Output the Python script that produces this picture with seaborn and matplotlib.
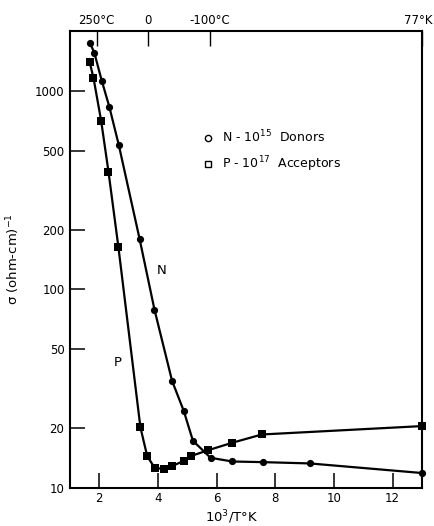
import numpy as np
import pandas as pd
import matplotlib
matplotlib.use('Agg')
import matplotlib.pyplot as plt
from matplotlib.lines import Line2D
from matplotlib.transforms import ScaledTranslation
import seaborn as sns

# Data (10^3/T vs conductivity)
n_x = [1.68, 1.83, 2.08, 2.34, 2.66, 3.37, 3.88, 4.48, 4.88, 5.19, 5.79, 6.53, 7.57, 9.17, 13.0]
n_y = [1740, 1550, 1125, 830, 535, 180, 79, 34.6, 24.4, 17.3, 14.2, 13.6, 13.5, 13.3, 11.9]

p_x = [1.67, 1.80, 2.06, 2.31, 2.65, 3.40, 3.63, 3.89, 4.20, 4.46, 4.88, 5.13, 5.71, 6.53, 7.54, 13.0]
p_y = [1390, 1160, 707, 392, 163, 20.2, 14.5, 12.6, 12.5, 12.85, 13.7, 14.5, 15.5, 16.9, 18.6, 20.5]

y_ticks = [10, 20, 50, 100, 200, 500, 1000]
x_ticks = [2, 4, 6, 8, 10, 12]
top_ticks = [1000 / 523, 1000 / 273, 1000 / 173, 1000 / 77]
top_labels = ['250°C', '0', '-100°C', '77°K']

df = pd.DataFrame({
    'x': n_x + p_x,
    'sigma': n_y + p_y,
    'sample': ['N'] * len(n_x) + ['P'] * len(p_x),
})

sns.set_style('ticks')
plt.rcParams['font.family'] = ['DejaVu Sans']
plt.rcParams['font.size'] = 8.5
plt.rcParams['text.color'] = 'black'
plt.rcParams['axes.labelcolor'] = 'black'

fig = plt.figure(figsize=(4.35, 5.26), dpi=100)
ax = fig.add_axes([0.161, 0.0722, 0.809, 0.869])

sns.lineplot(data=df, x='x', y='sigma', style='sample',
             markers={'N': 'o', 'P': 's'}, dashes=False, color='black',
             linewidth=1.6, markersize=5.2, markeredgewidth=0,
             legend=False, sort=True, estimator=None, ax=ax, clip_on=False)

ax.set_yscale('log')
ax.set_xlim(1, 13)
ax.set_ylim(10, 2000)
ax.set_yticks(y_ticks)
ax.set_yticklabels([str(v) for v in y_ticks])
ax.yaxis.set_minor_locator(matplotlib.ticker.NullLocator())
ax.set_xticks(x_ticks)
ax.set_xticklabels([str(v) for v in x_ticks])

for s in ax.spines.values():
    s.set_visible(True)
    s.set_linewidth(1.5)
    s.set_color('black')

ax.tick_params(axis='both', which='major', direction='in', length=11,
               width=1.1, colors='black', labelsize=8.5)
ax.tick_params(axis='y', pad=4)
ax.tick_params(axis='x', pad=3)

ax.set_xlabel('10$^3$/T°K', fontsize=9.5)
ax.xaxis.set_label_coords(0.459, -0.045)
ax.set_ylabel('σ (ohm-cm)$^{-1}$', fontsize=9.5)
ax.yaxis.set_label_coords(-0.137, 0.5)

# top temperature axis
top = ax.twiny()
top.set_xlim(ax.get_xlim())
top.set_xticks(top_ticks)
top.set_xticklabels(top_labels)
top.tick_params(axis='x', direction='in', length=11, width=1.0, pad=3,
                labelsize=8.5, colors='black')
for s in top.spines.values():
    s.set_visible(False)
lbls = top.get_xticklabels()
lbls[-1].set_horizontalalignment('right')
lbls[-1].set_transform(lbls[-1].get_transform() + ScaledTranslation(11 / 100, 0, fig.dpi_scale_trans))

# curve labels
ax.text(4.11, 124, 'N', fontsize=9.5, ha='center', va='center')
ax.text(2.62, 43, 'P', fontsize=9.5, ha='center', va='center')

handles = [
    Line2D([], [], marker='o', ls='none', mfc='white', mec='black', mew=1.0, ms=4.5),
    Line2D([], [], marker='s', ls='none', mfc='white', mec='black', mew=1.0, ms=4.5),
]
ax.legend(handles, ['N - 10$^{15}$  Donors', 'P - 10$^{17}$  Acceptors'],
          loc='upper left', bbox_to_anchor=(0.374, 0.787), frameon=False,
          borderpad=0, borderaxespad=0, handlelength=1.0, handletextpad=0.6,
          labelspacing=0.75, fontsize=9)

fig.savefig('out.png', dpi=100)
